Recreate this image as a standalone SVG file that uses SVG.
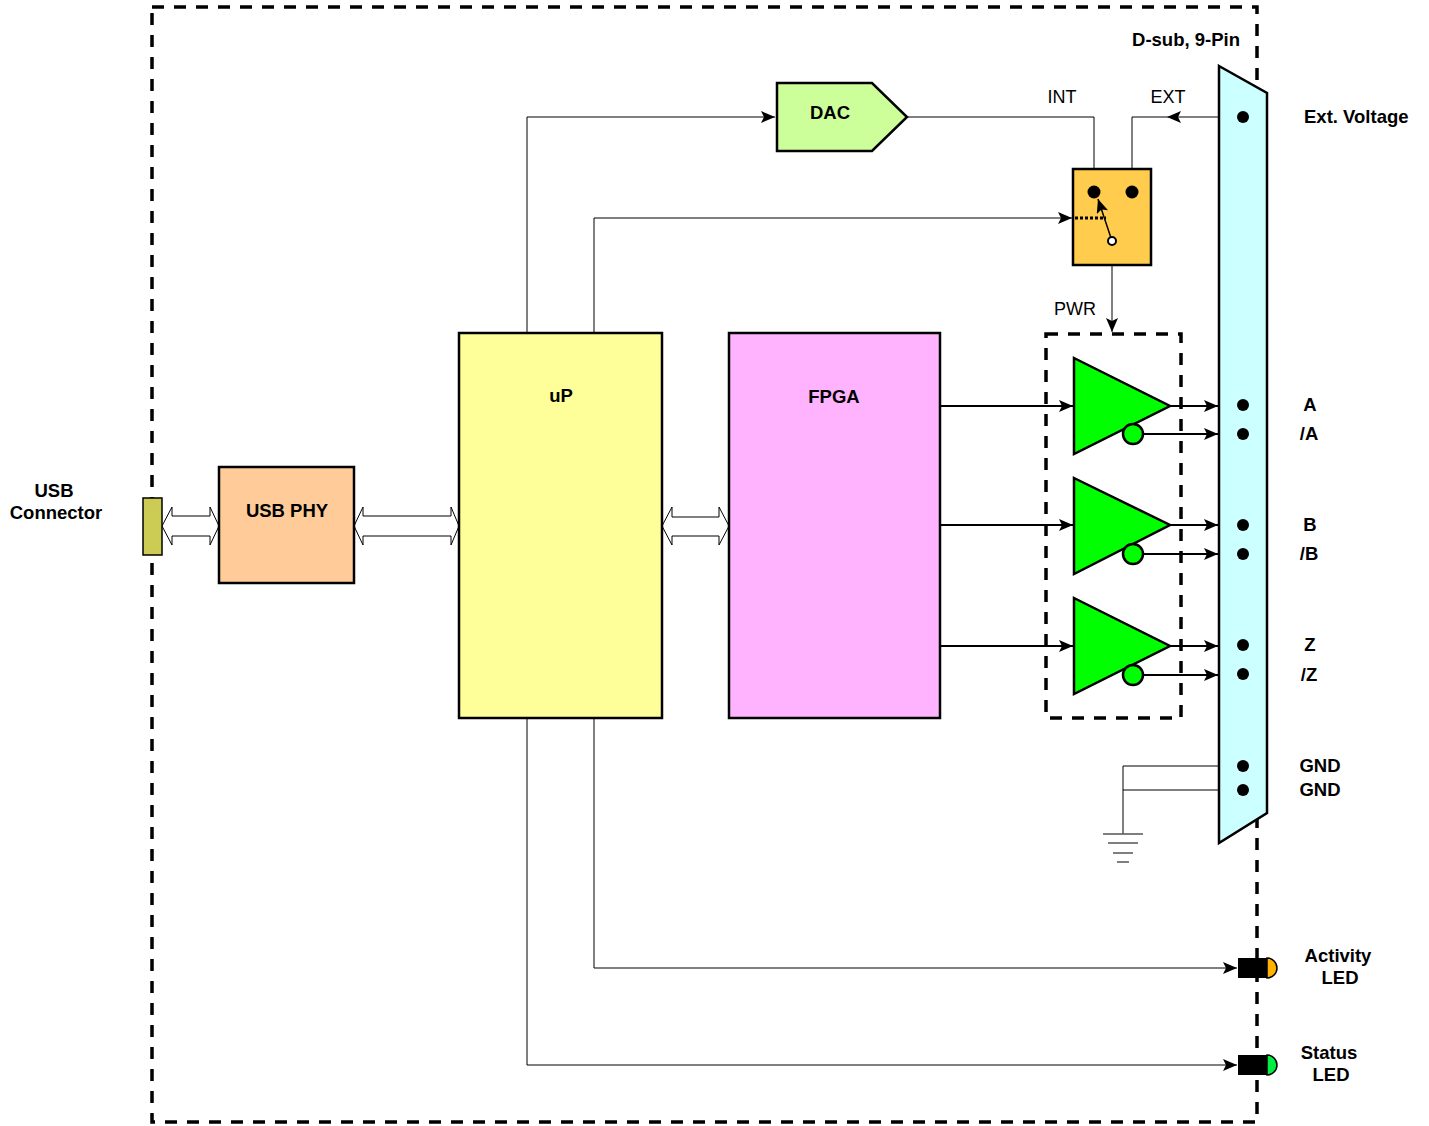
<svg xmlns="http://www.w3.org/2000/svg" width="1429" height="1126" viewBox="0 0 1429 1126">
<defs>
<style>
.t{font-family:"Liberation Sans",Arial,sans-serif;font-size:18px;fill:#000}
.b{font-weight:bold;font-size:18.5px}
.box{stroke:#000;stroke-width:2.5}
.thin{fill:none;stroke:#000;stroke-width:1}
.thick{fill:none;stroke:#000;stroke-width:2.2}
.dash{fill:none;stroke:#000;stroke-width:3.5;stroke-dasharray:12 10}
.dbl{fill:#fff;stroke:#000;stroke-width:1}
.pin{fill:#000}
.buf{fill:#00ff00;stroke:#000;stroke-width:2.5}
.gnd{fill:none;stroke:#555;stroke-width:1.5}
</style>
<marker id="ar" markerUnits="userSpaceOnUse" markerWidth="14" markerHeight="12" refX="14" refY="6" orient="auto"><path d="M0,0 L14,6 L0,12 L3,6 z" fill="#000"/></marker>
</defs>
<rect x="152" y="7" width="1105" height="1115" class="dash"/>

<g id="connectors">
<polyline class="thin" points="527,333 527,117 775,117" marker-end="url(#ar)"/>
<polyline class="thin" points="907,117 1094,117 1094,192"/>
<polyline class="thin" points="1219,117 1167,117" marker-end="url(#ar)"/>
<polyline class="thin" points="1167,117 1132,117 1132,192"/>
<polyline class="thin" points="594,333 594,218 1072,218" marker-end="url(#ar)"/>
<polyline class="thin" points="1112,245 1112,332" marker-end="url(#ar)"/>
<polyline class="thin" points="594,718 594,968 1237,968" marker-end="url(#ar)"/>
<polyline class="thin" points="527,718 527,1065 1237,1065" marker-end="url(#ar)"/>
<line class="thick" x1="940" y1="406" x2="1073" y2="406" marker-end="url(#ar)"/>
<line class="thick" x1="940" y1="525" x2="1073" y2="525" marker-end="url(#ar)"/>
<line class="thick" x1="940" y1="646" x2="1073" y2="646" marker-end="url(#ar)"/>
<line class="thick" x1="1170" y1="406" x2="1218" y2="406" marker-end="url(#ar)"/>
<line class="thick" x1="1143" y1="434" x2="1218" y2="434" marker-end="url(#ar)"/>
<line class="thick" x1="1170" y1="525" x2="1218" y2="525" marker-end="url(#ar)"/>
<line class="thick" x1="1143" y1="554" x2="1218" y2="554" marker-end="url(#ar)"/>
<line class="thick" x1="1170" y1="646" x2="1218" y2="646" marker-end="url(#ar)"/>
<line class="thick" x1="1143" y1="675" x2="1218" y2="675" marker-end="url(#ar)"/>
<path class="dbl" d="M162,526 L172,507 L172,516 L210,516 L210,507 L219,526 L210,545 L210,536 L172,536 L172,545 Z"/>
<path class="dbl" d="M354,526 L363,507 L363,516 L451,516 L451,507 L459,526 L451,545 L451,536 L363,536 L363,545 Z"/>
<path class="dbl" d="M662,526 L672,507 L672,517 L719,517 L719,507 L729,526 L719,545 L719,536 L672,536 L672,545 Z"/>
<polyline class="thin" points="1219,766 1123,766 1123,834"/>
<line class="thin" x1="1219" y1="790" x2="1123" y2="790"/>
</g>

<g id="gnd">
<line class="gnd" x1="1103" y1="834" x2="1143" y2="834"/>
<line class="gnd" x1="1108" y1="843" x2="1138" y2="843"/>
<line class="gnd" x1="1113" y1="853" x2="1133" y2="853"/>
<line class="gnd" x1="1117" y1="862" x2="1129" y2="862"/>
</g>

<g id="usb-connector">
<rect x="143" y="498" width="19" height="57" fill="#cccc55" stroke="#000" stroke-width="1.5"/>
<text class="t b" x="54" y="497" text-anchor="middle">USB</text>
<text class="t b" x="56" y="519" text-anchor="middle">Connector</text>
</g>

<g id="usb-phy">
<rect x="219" y="467" width="135" height="116" fill="#ffcc99" class="box"/>
<text class="t b" x="287" y="517" text-anchor="middle">USB PHY</text>
</g>

<g id="up">
<rect x="459" y="333" width="203" height="385" fill="#ffff99" class="box"/>
<text class="t b" x="561" y="402" text-anchor="middle">uP</text>
</g>

<g id="fpga">
<rect x="729" y="333" width="211" height="385" fill="#ffb3ff" class="box"/>
<text class="t b" x="834" y="403" text-anchor="middle">FPGA</text>
</g>

<g id="dac">
<polygon points="777,83 872,83 907,117 872,151 777,151" fill="#ccff99" class="box"/>
<text class="t b" x="830" y="119" text-anchor="middle">DAC</text>
</g>

<g id="switch">
<rect x="1073" y="169" width="78" height="96" fill="#ffcc4d" class="box"/>
<circle cx="1094" cy="192" r="6.5" class="pin"/>
<circle cx="1132" cy="192" r="6.5" class="pin"/>
<line x1="1075" y1="218" x2="1106" y2="218" stroke="#000" stroke-width="3" stroke-dasharray="3 2"/>
<line x1="1112" y1="241" x2="1098" y2="199" stroke="#000" stroke-width="1.5" marker-end="url(#ar)"/>
<circle cx="1112" cy="241" r="4" fill="#fff" stroke="#000" stroke-width="2"/>
<text class="t" x="1062" y="103" text-anchor="middle">INT</text>
<text class="t" x="1168" y="103" text-anchor="middle">EXT</text>
<text class="t" x="1075" y="315" text-anchor="middle">PWR</text>
</g>

<g id="drivers">
<rect x="1046" y="334" width="135" height="384" class="dash"/>
<polygon points="1074,358 1170,406 1074,454" class="buf"/>
<circle cx="1133" cy="434" r="10" class="buf"/>
<polygon points="1074,478 1170,525 1074,574" class="buf"/>
<circle cx="1133" cy="554" r="10" class="buf"/>
<polygon points="1074,598 1170,646 1074,694" class="buf"/>
<circle cx="1133" cy="675" r="10" class="buf"/>
</g>

<g id="dsub">
<polygon points="1219,66 1267,93 1267,813 1219,843" fill="#ccffff" stroke="#000" stroke-width="2.5"/>
<circle cx="1243" cy="117" r="6" class="pin"/>
<circle cx="1243" cy="405" r="6" class="pin"/>
<circle cx="1243" cy="434" r="6" class="pin"/>
<circle cx="1243" cy="525" r="6" class="pin"/>
<circle cx="1243" cy="554" r="6" class="pin"/>
<circle cx="1243" cy="645" r="6" class="pin"/>
<circle cx="1243" cy="674" r="6" class="pin"/>
<circle cx="1243" cy="766" r="6" class="pin"/>
<circle cx="1243" cy="790" r="6" class="pin"/>
<text class="t b" x="1186" y="46" text-anchor="middle">D-sub, 9-Pin</text>
<text class="t b" x="1304" y="123">Ext. Voltage</text>
<text class="t b" x="1310" y="411" text-anchor="middle">A</text>
<text class="t b" x="1309" y="440" text-anchor="middle">/A</text>
<text class="t b" x="1310" y="531" text-anchor="middle">B</text>
<text class="t b" x="1309" y="560" text-anchor="middle">/B</text>
<text class="t b" x="1310" y="651" text-anchor="middle">Z</text>
<text class="t b" x="1309" y="681" text-anchor="middle">/Z</text>
<text class="t b" x="1320" y="772" text-anchor="middle">GND</text>
<text class="t b" x="1320" y="796" text-anchor="middle">GND</text>
</g>

<g id="activity-led">
<path d="M1267,958 A10,10 0 0 1 1267,978 Z" fill="#ffb300" stroke="#000" stroke-width="1.5"/>
<rect x="1238" y="958" width="29" height="20" fill="#000"/>
<text class="t b" x="1338" y="962" text-anchor="middle">Activity</text>
<text class="t b" x="1340" y="984" text-anchor="middle">LED</text>
</g>

<g id="status-led">
<path d="M1267,1055 A10,10 0 0 1 1267,1075 Z" fill="#00ee44" stroke="#000" stroke-width="1.5"/>
<rect x="1238" y="1055" width="29" height="20" fill="#000"/>
<text class="t b" x="1329" y="1059" text-anchor="middle">Status</text>
<text class="t b" x="1331" y="1081" text-anchor="middle">LED</text>
</g>
</svg>
